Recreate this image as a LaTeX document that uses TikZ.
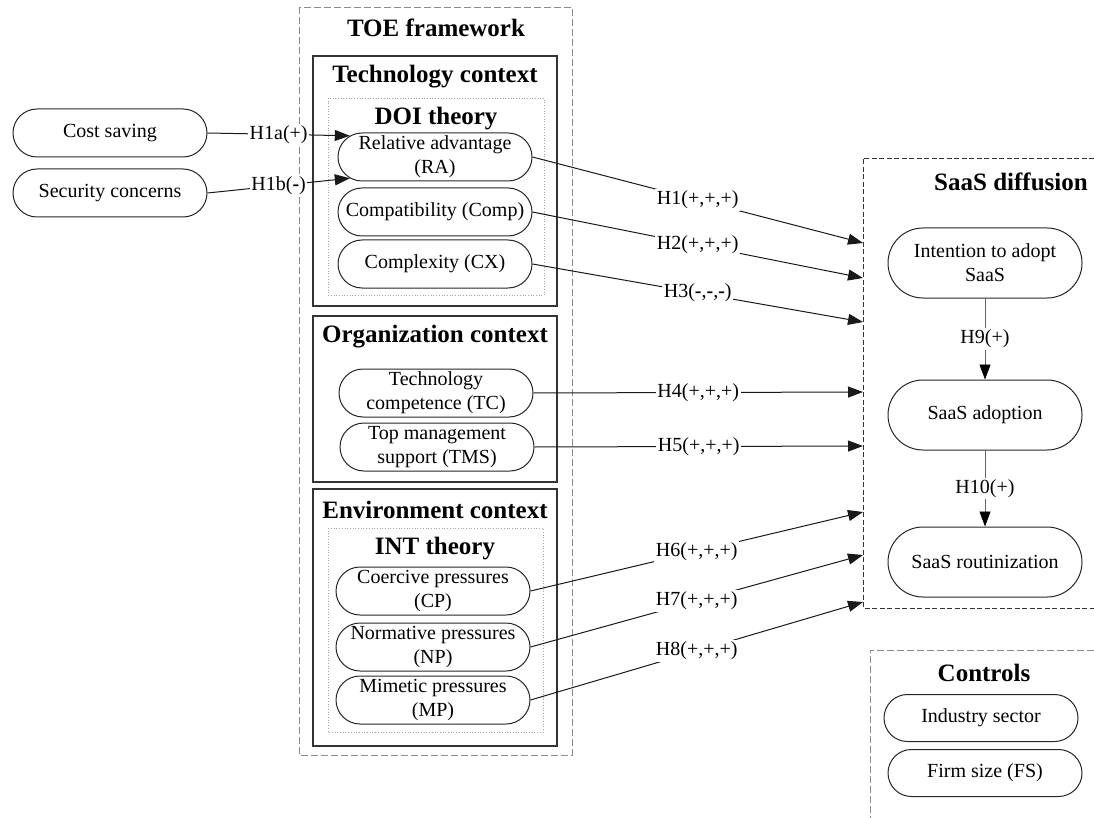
\documentclass[tikz,border=0pt]{standalone}
\usepackage{fontspec}
\setmainfont{Liberation Serif}
\usetikzlibrary{shapes.misc,arrows.meta}

\tikzset{
  pill/.style={draw=black!85, line width=1pt, rounded rectangle, align=center,
    minimum width=198pt, minimum height=48pt, inner sep=2pt,
    font=\fontsize{20}{24}\selectfont},
  tallpill/.style={pill, minimum height=70pt},
  title/.style={font=\fontsize{25}{30}\selectfont\bfseries, inner sep=0pt},
  hlabel/.style={fill=white, inner sep=1.5pt, font=\fontsize{20}{24}\selectfont},
  link/.style={line width=1pt, draw=black!90, -{Triangle[length=15pt,width=11pt]}},
  vlink/.style={line width=0.9pt, draw=black!60, -{Triangle[length=15pt,width=11pt,color=black]}},
  outerbox/.style={draw=black!45, line width=0.9pt, dash pattern=on 7pt off 3pt},
  saasbox/.style={draw=black!80, line width=0.8pt, dash pattern=on 5pt off 2.5pt},
  ctxbox/.style={draw=black!80, line width=1.3pt},
  theorybox/.style={draw=black!35, line width=0.7pt, dotted},
}

\begin{document}
\begin{tikzpicture}[x=1pt, y=-1pt]
  \useasboundingbox (0,0) rectangle (1094,818);

  % framework and context frames
  \draw[outerbox] (299,7) rectangle (572,755);
  \draw[ctxbox] (313,56) rectangle (557,306);
  \draw[theorybox] (328,98) rectangle (544,295);
  \draw[ctxbox] (313,316) rectangle (557,482);
  \draw[ctxbox] (313,489) rectangle (557,746);
  \draw[theorybox] (328,528) rectangle (543,732);
  \draw[saasbox] (1094,158) -- (863,158) -- (863,608) -- (1094,608);
  \draw[outerbox] (1094,650) -- (870,650) -- (870,818);

  % titles
  \node[title] (toeT) at (436,28) {TOE framework};
  \node[title] (techT) at (435,77) {Technology context};
  \node[title] (doiT) at (436,119) {DOI theory};
  \node[title] (orgT) at (435,337) {Organization context};
  \node[title] (envT) at (435,510) {Environment context};
  \node[title] (intT) at (435,549) {INT theory};
  \node[title] (saasT) at (1011,182) {SaaS diffusion};
  \node[title] (ctrlT) at (984,673) {Controls};

  % antecedents of relative advantage
  \node[pill] (cost) at (110,133) {Cost saving};
  \node[pill] (sec) at (110,193) {Security concerns};

  % technology context
  \node[pill] (ra) at (435,157) {Relative advantage\\(RA)};
  \node[pill] (comp) at (435,212) {Compatibility (Comp)};
  \node[pill] (cx) at (435,264) {Complexity (CX)};

  % organization context
  \node[pill] (tc) at (436,393) {Technology\\competence (TC)};
  \node[pill] (tms) at (437,447) {Top management\\support (TMS)};

  % environment context
  \node[pill] (cp) at (433,591) {Coercive pressures\\(CP)};
  \node[pill] (np) at (433,647) {Normative pressures\\(NP)};
  \node[pill] (mp) at (433,700) {Mimetic pressures\\(MP)};

  % SaaS diffusion stages
  \node[tallpill] (int) at (985,263) {Intention to adopt\\SaaS};
  \node[tallpill] (adopt) at (985,415) {SaaS adoption};
  \node[tallpill] (rout) at (985,562) {SaaS routinization};

  % controls
  \node[pill, minimum height=47pt] (ind) at (981,718) {Industry sector};
  \node[pill, minimum height=47pt] (fs) at (985,773) {Firm size (FS)};

  % entry points on the SaaS diffusion frame
  \coordinate (e1) at (863,243);
  \coordinate (e2) at (863,278);
  \coordinate (e3) at (863,322);
  \coordinate (e4) at (863,392);
  \coordinate (e5) at (863,446);
  \coordinate (e6) at (863,512);
  \coordinate (e7) at (863,555);
  \coordinate (e8) at (863,602);

  % hypotheses
  \draw[link] (cost.east) -- node[hlabel] {H1a(+)} (ra.166);
  \draw[link] (sec.east) -- node[hlabel] {H1b(\textbf{-})} (ra.194);
  \draw[link] (ra.east) -- node[hlabel] {H1(+,+,+)} (e1);
  \draw[link] (comp.east) -- node[hlabel] {H2(+,+,+)} (e2);
  \draw[link] (cx.east) -- node[hlabel] {H3(\textbf{-},\textbf{-},\textbf{-})} (e3);
  \draw[link] (tc.east) -- node[hlabel] {H4(+,+,+)} (e4);
  \draw[link] (tms.east) -- node[hlabel] {H5(+,+,+)} (e5);
  \draw[link] (cp.east) -- node[hlabel] {H6(+,+,+)} (e6);
  \draw[link] (np.east) -- node[hlabel] {H7(+,+,+)} (e7);
  \draw[link] (mp.east) -- node[hlabel] {H8(+,+,+)} (e8);
  \draw[vlink] (int.south) -- node[hlabel] {H9(+)} (adopt.north);
  \draw[vlink] (adopt.south) -- node[hlabel] {H10(+)} (rout.north);
\end{tikzpicture}
\end{document}
